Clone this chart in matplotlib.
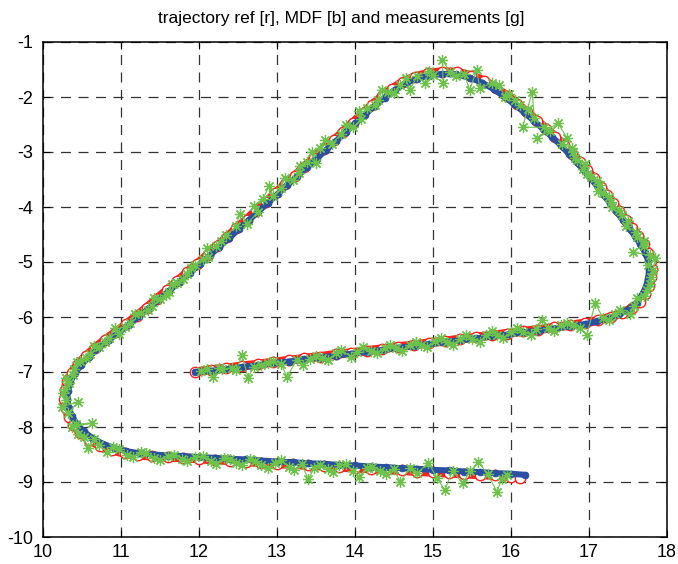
import numpy as np
import matplotlib
matplotlib.use("Agg")
import matplotlib.pyplot as plt

plt.rcParams['font.family'] = ['Liberation Sans', 'DejaVu Sans']
plt.rcParams['axes.unicode_minus'] = False

title = "trajectory ref [r], MDF [b] and measurements [g]"
x_ticks = [10, 11, 12, 13, 14, 15, 16, 17, 18]
y_ticks = [-10, -9, -8, -7, -6, -5, -4, -3, -2, -1]

# reference trajectory [r]
ref_x = [11.95, 12.15, 12.35, 12.55, 12.75, 12.95, 13.15, 13.35, 13.55, 13.75, 13.95, 14.15, 14.35,
         14.55, 14.75, 14.95, 15.15, 15.35, 15.55, 15.75, 15.95, 16.15, 16.35, 16.55, 16.75, 16.95,
         17.12, 17.28, 17.42, 17.55, 17.65, 17.72, 17.77, 17.80, 17.81, 17.80, 17.76, 17.70, 17.63, 17.55,
         17.47, 17.39, 17.31, 17.23, 17.15, 17.06, 16.97, 16.88, 16.78, 16.68, 16.57, 16.45, 16.33, 16.21,
         16.08, 15.95, 15.81, 15.66, 15.49, 15.31, 15.12, 14.94, 14.77,
         14.62, 14.48, 14.35, 14.22, 14.10, 13.97, 13.85, 13.73, 13.60, 13.48, 13.35, 13.23, 13.10, 12.98,
         12.86, 12.73, 12.61, 12.48, 12.36, 12.23, 12.11, 11.98, 11.85, 11.72, 11.59, 11.46, 11.33, 11.20,
         11.07, 10.94, 10.80, 10.67, 10.55, 10.45, 10.37, 10.31, 10.28, 10.27, 10.29, 10.33, 10.39, 10.48,
         10.59, 10.73, 10.89, 11.05, 11.22, 11.40,
         11.60, 11.80, 12.00, 12.20, 12.40, 12.60, 12.80, 13.00, 13.20, 13.40, 13.60, 13.80, 14.00, 14.20,
         14.40, 14.60, 14.80, 15.00, 15.20, 15.40, 15.60, 15.80, 16.00, 16.12]
ref_y = [-7.00, -6.96, -6.93, -6.89, -6.86, -6.82, -6.79, -6.75, -6.72, -6.68, -6.65, -6.61, -6.58,
         -6.54, -6.51, -6.47, -6.44, -6.40, -6.37, -6.33, -6.30, -6.26, -6.23, -6.19, -6.15, -6.11,
         -6.06, -6.00, -5.93, -5.84, -5.72, -5.58, -5.43, -5.28, -5.13, -4.98, -4.83, -4.68, -4.53, -4.38,
         -4.23, -4.08, -3.93, -3.78, -3.63, -3.48, -3.33, -3.18, -3.03, -2.88, -2.73, -2.58, -2.43, -2.28,
         -2.13, -1.98, -1.84, -1.71, -1.61, -1.55, -1.54, -1.57, -1.63,
         -1.72, -1.85, -1.99, -2.14, -2.30, -2.47, -2.63, -2.79, -2.95, -3.11, -3.27, -3.43, -3.59, -3.75,
         -3.91, -4.07, -4.23, -4.39, -4.55, -4.71, -4.87, -5.03, -5.19, -5.35, -5.51, -5.67, -5.83, -5.98,
         -6.13, -6.27, -6.41, -6.56, -6.71, -6.86, -7.01, -7.17, -7.33, -7.49, -7.65, -7.81, -7.96, -8.10,
         -8.23, -8.34, -8.42, -8.48, -8.51, -8.53,
         -8.55, -8.56, -8.58, -8.60, -8.61, -8.63, -8.65, -8.67, -8.68, -8.70, -8.71, -8.73, -8.75, -8.76,
         -8.78, -8.79, -8.81, -8.82, -8.84, -8.85, -8.87, -8.88, -8.90, -8.93]

# MDF estimate [b]
mdf_x = [11.95, 12.15, 12.35, 12.55, 12.75, 12.95, 13.15, 13.35, 13.55, 13.75, 13.95, 14.15, 14.35,
         14.55, 14.75, 14.95, 15.15, 15.35, 15.55, 15.75, 15.95, 16.15, 16.35, 16.55, 16.75, 16.95,
         17.10, 17.25, 17.39, 17.51, 17.61, 17.68, 17.73, 17.76, 17.77, 17.76, 17.72, 17.66, 17.59, 17.51,
         17.43, 17.35, 17.27, 17.19, 17.11, 17.02, 16.93, 16.84, 16.74, 16.64, 16.53, 16.41, 16.29, 16.17,
         16.04, 15.91, 15.78, 15.63, 15.47, 15.30, 15.12, 14.95, 14.79,
         14.65, 14.51, 14.38, 14.25, 14.13, 14.00, 13.88, 13.76, 13.63, 13.51, 13.38, 13.26, 13.13, 13.01,
         12.89, 12.76, 12.64, 12.51, 12.39, 12.26, 12.14, 12.01, 11.88, 11.75, 11.62, 11.49, 11.36, 11.23,
         11.10, 10.97, 10.84, 10.71, 10.59, 10.49, 10.41, 10.35, 10.32, 10.31, 10.33, 10.37, 10.43, 10.52,
         10.63, 10.76, 10.91, 11.07, 11.24, 11.42,
         11.60, 11.80, 12.00, 12.20, 12.40, 12.60, 12.80, 13.00, 13.20, 13.40, 13.60, 13.80, 14.00, 14.20,
         14.40, 14.60, 14.80, 15.00, 15.20, 15.40, 15.60, 15.80, 16.00, 16.18]
mdf_y = [-7.00, -6.98, -6.95, -6.91, -6.88, -6.84, -6.81, -6.77, -6.74, -6.70, -6.67, -6.63, -6.60,
         -6.56, -6.53, -6.49, -6.46, -6.42, -6.39, -6.35, -6.32, -6.28, -6.25, -6.21, -6.17, -6.13,
         -6.08, -6.02, -5.95, -5.86, -5.74, -5.60, -5.45, -5.29, -5.13, -4.98, -4.83, -4.68, -4.53, -4.38,
         -4.23, -4.08, -3.93, -3.78, -3.63, -3.48, -3.33, -3.18, -3.03, -2.88, -2.73, -2.58, -2.43, -2.28,
         -2.13, -1.99, -1.86, -1.74, -1.65, -1.59, -1.58, -1.61, -1.67,
         -1.75, -1.87, -2.01, -2.16, -2.32, -2.48, -2.64, -2.80, -2.96, -3.12, -3.28, -3.44, -3.60, -3.76,
         -3.92, -4.08, -4.24, -4.40, -4.56, -4.72, -4.88, -5.04, -5.20, -5.36, -5.52, -5.68, -5.84, -5.99,
         -6.14, -6.28, -6.42, -6.57, -6.72, -6.87, -7.02, -7.18, -7.34, -7.49, -7.65, -7.80, -7.94, -8.08,
         -8.20, -8.30, -8.38, -8.44, -8.48, -8.50,
         -8.52, -8.53, -8.55, -8.56, -8.58, -8.59, -8.61, -8.63, -8.64, -8.66, -8.67, -8.69, -8.70, -8.72,
         -8.73, -8.75, -8.76, -8.78, -8.79, -8.81, -8.82, -8.84, -8.85, -8.87]

# measurements [g]
meas_x = [12.02, 12.10, 12.18, 12.25, 12.30, 12.42, 12.48, 12.55, 12.63, 12.70,
          12.80, 12.88, 12.95, 13.05, 13.13, 13.25, 13.33, 13.42, 13.50, 13.58,
          13.65, 13.75, 13.82, 13.95, 14.02, 14.10, 14.20, 14.28, 14.38, 14.45,
          14.52, 14.60, 14.70, 14.78, 14.85, 14.92, 15.02, 15.10, 15.18, 15.25,
          15.35, 15.42, 15.50, 15.60, 15.68, 15.75, 15.82, 15.90, 16.00, 16.08,
          16.16, 16.25, 16.32, 16.40, 16.48, 16.55, 16.64, 16.72, 16.80, 16.88,
          16.97, 17.08, 17.18, 17.25, 17.33, 17.40, 17.52, 17.58, 17.62, 17.70,
          17.74, 17.78, 17.80, 17.82, 17.85, 17.76, 17.78, 17.56, 17.70, 17.70,
          17.62, 17.60, 17.48, 17.50, 17.42, 17.38, 17.30, 17.28, 17.25, 17.18,
          17.12, 17.14, 17.10, 17.02, 16.98, 16.92, 16.95, 16.85, 16.82, 16.80,
          16.78, 16.66, 16.72, 16.60, 16.33, 16.50, 16.42, 16.15, 16.27, 16.30,
          16.22, 16.12, 16.05, 15.98, 15.92, 15.85, 15.75, 15.60, 15.56, 15.47,
          15.40, 15.30, 15.22, 15.12, 15.13, 15.00, 14.90, 14.95, 14.80, 14.70,
          14.65, 14.58, 14.50, 14.42, 14.35, 14.30, 14.25, 14.15, 14.05, 14.08,
          13.98, 13.88, 13.82, 13.70, 13.62, 13.55, 13.45, 13.50, 13.38, 13.30,
          13.28, 13.20, 13.10, 13.05, 12.95, 12.90, 12.82, 12.70, 12.75, 12.62,
          12.52, 12.48, 12.35, 12.28, 12.22, 12.10, 12.12, 12.05, 11.95, 11.90,
          11.85, 11.80, 11.72, 11.65, 11.62, 11.58, 11.50, 11.42, 11.40, 11.35,
          11.25, 11.18, 11.12, 11.05, 10.98, 10.92, 10.85, 10.80, 10.72, 10.65,
          10.60, 10.55, 10.48, 10.43, 10.40, 10.38, 10.33, 10.30, 10.28, 10.26,
          10.30, 10.24, 10.45, 10.32, 10.37, 10.63, 10.42, 10.45, 10.52, 10.58,
          10.65, 10.72, 10.82, 10.90, 10.98, 11.08, 11.15, 11.25, 11.32, 11.42,
          11.50, 11.60, 11.68, 11.78, 11.85, 11.95, 12.05, 12.15, 12.22, 12.32,
          12.40, 12.48, 12.55, 12.65, 12.72, 12.80, 12.88, 12.98, 13.05, 13.15,
          13.22, 13.32, 13.40, 13.48, 13.55, 13.65, 13.72, 13.80, 13.88, 13.98,
          14.05, 14.15, 14.22, 14.32, 14.40, 14.50, 14.58, 14.70, 14.80, 14.94,
          15.05, 15.15, 15.25, 15.38, 15.48, 15.58, 15.70, 15.82, 15.88, 15.95]
meas_y = [-6.98, -6.95, -7.09, -6.93, -6.95, -6.92, -6.97, -6.69, -7.11, -6.90,
          -6.88, -6.84, -6.80, -6.85, -7.09, -6.78, -6.87, -6.76, -6.70, -6.74,
          -6.78, -6.66, -6.60, -6.72, -6.63, -6.55, -6.62, -6.66, -6.56, -6.50,
          -6.57, -6.62, -6.50, -6.45, -6.50, -6.55, -6.44, -6.38, -6.45, -6.50,
          -6.40, -6.33, -6.40, -6.45, -6.32, -6.25, -6.33, -6.38, -6.28, -6.20,
          -6.27, -6.32, -6.22, -6.05, -6.20, -6.25, -6.15, -6.10, -6.14, -6.20,
          -6.33, -5.75, -6.02, -6.05, -5.94, -5.88, -5.95, -5.80, -5.65, -5.62,
          -5.50, -5.40, -5.28, -5.15, -4.93, -5.05, -4.88, -4.82, -4.70, -4.62,
          -4.55, -4.45, -4.35, -4.25, -4.15, -4.05, -4.00, -3.90, -3.82, -3.75,
          -3.70, -3.60, -3.52, -3.45, -3.40, -3.30, -3.22, -3.15, -3.10, -3.00,
          -2.92, -2.86, -2.75, -2.47, -2.75, -2.62, -2.55, -2.55, -1.91, -2.38,
          -2.22, -2.15, -2.05, -1.95, -2.00, -1.78, -1.75, -1.84, -1.51, -1.87,
          -1.58, -1.62, -1.55, -1.33, -1.75, -1.60, -1.75, -1.52, -1.62, -1.87,
          -1.65, -1.78, -1.92, -1.90, -1.88, -2.05, -2.15, -2.20, -2.25, -2.40,
          -2.55, -2.50, -2.68, -2.85, -2.78, -2.92, -3.00, -3.20, -3.18, -3.25,
          -3.38, -3.50, -3.48, -3.65, -3.80, -3.62, -3.85, -3.98, -4.10, -4.30,
          -4.12, -4.35, -4.50, -4.62, -4.70, -4.75, -4.90, -4.95, -5.05, -5.10,
          -5.22, -5.30, -5.38, -5.40, -5.55, -5.60, -5.68, -5.65, -5.80, -5.88,
          -5.92, -5.95, -6.10, -6.18, -6.30, -6.20, -6.38, -6.45, -6.55, -6.52,
          -6.68, -6.75, -6.80, -6.82, -6.95, -7.05, -7.20, -7.10, -7.30, -7.38,
          -7.50, -7.63, -7.55, -7.75, -8.00, -7.93, -7.95, -8.12, -8.18, -8.38,
          -8.22, -8.32, -8.45, -8.36, -8.40, -8.50, -8.55, -8.46, -8.48, -8.56,
          -8.60, -8.52, -8.50, -8.58, -8.62, -8.55, -8.52, -8.62, -8.68, -8.56,
          -8.58, -8.66, -8.70, -8.58, -8.62, -8.70, -8.75, -8.66, -8.60, -8.72,
          -8.78, -8.68, -8.95, -8.74, -8.70, -8.76, -8.82, -8.70, -8.68, -8.80,
          -8.90, -8.74, -8.72, -8.80, -8.85, -8.76, -9.00, -8.75, -8.84, -8.65,
          -8.92, -9.15, -8.80, -9.02, -8.80, -8.64, -8.85, -9.18, -8.95, -8.88]

W, H = 678, 564
fig = plt.figure(figsize=(W / 100, H / 100), dpi=100)
ax = fig.add_axes([43 / W, 1 - 537 / H, 624 / W, 495 / H])

red = '#ff2020'
blue = '#2a4fa3'
green = '#6cc24a'

ax.plot(ref_x, ref_y, '-', color=red, lw=6.5, marker='o', ms=7.5, mfc='white', mec=red, mew=1.0,
        solid_capstyle='round', solid_joinstyle='round', zorder=3)
ax.plot(mdf_x, mdf_y, '-', color=blue, lw=4.4, marker='o', ms=5.0, mfc=blue, mec=blue, mew=0.5,
        solid_capstyle='round', solid_joinstyle='round', zorder=4)
ax.plot(meas_x, meas_y, '-', color=green, lw=0.8, marker=(8, 2, 0), ms=8.0, mec=green, mew=0.9, zorder=5)

ax.set_xlim(10, 18)
ax.set_ylim(-10, -1)
ax.set_xticks(x_ticks)
ax.set_yticks(y_ticks)
ax.set_xticklabels([str(v) for v in x_ticks])
ax.set_yticklabels([str(v) for v in y_ticks])
ax.tick_params(direction='in', length=5, width=0.8, top=True, right=True, labelsize=13,
               colors='black')
ax.tick_params(axis='y', pad=7)
ax.tick_params(axis='x', pad=5)
ax.grid(True, color='#333333', linestyle=(0, (8, 6)), linewidth=0.9)
ax.set_axisbelow(True)
for s in ax.spines.values():
    s.set_linewidth(1.1)
    s.set_color('black')

fig.text(341 / W, 1 - 18 / H, title, ha='center', va='center', fontsize=12.5)

fig.savefig('out.png', dpi=100)
